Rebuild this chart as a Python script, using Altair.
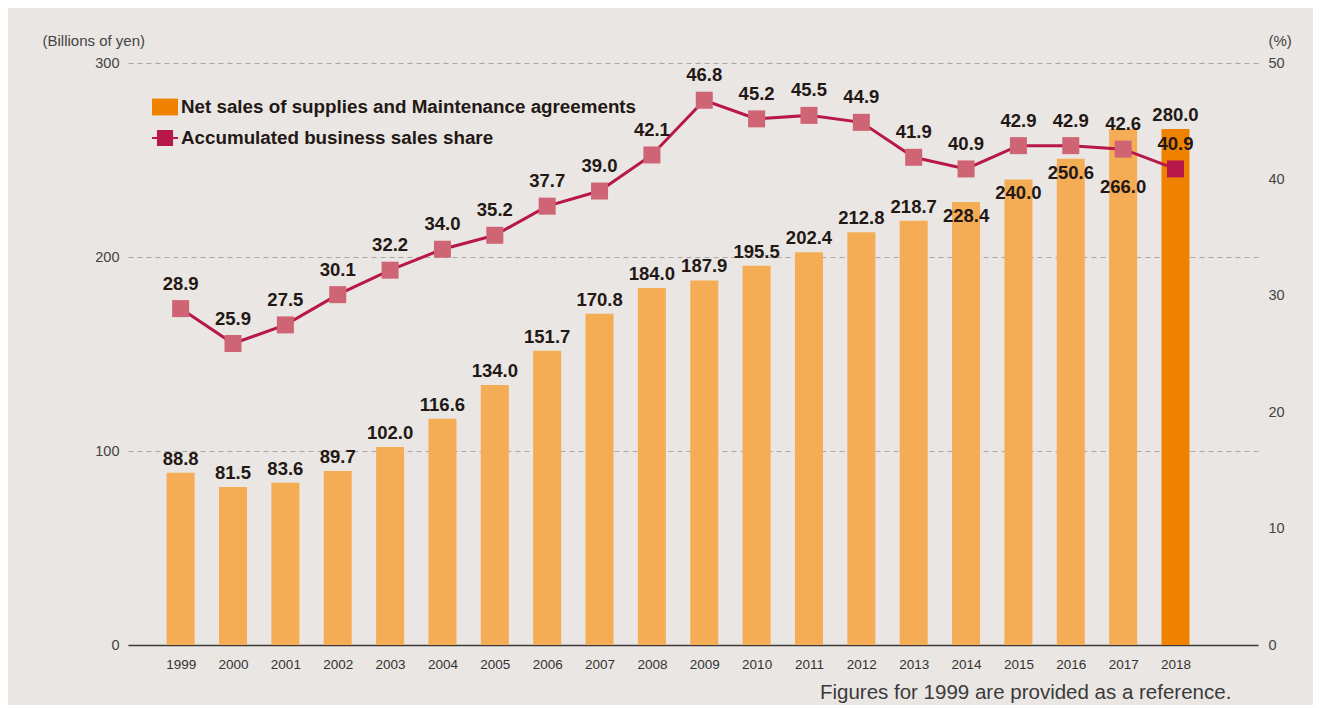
import altair as alt
import pandas as pd

years = list(range(1999, 2019))
sales = [88.8, 81.5, 83.6, 89.7, 102.0, 116.6, 134.0, 151.7, 170.8, 184.0,
         187.9, 195.5, 202.4, 212.8, 218.7, 228.4, 240.0, 250.6, 266.0, 266.0]
sales_labels = ["88.8", "81.5", "83.6", "89.7", "102.0", "116.6", "134.0", "151.7", "170.8", "184.0",
                "187.9", "195.5", "202.4", "212.8", "218.7", "228.4", "240.0", "250.6", "266.0", "280.0"]
share = [28.9, 25.9, 27.5, 30.1, 32.2, 34.0, 35.2, 37.7, 39.0, 42.1,
         46.8, 45.2, 45.5, 44.9, 41.9, 40.9, 42.9, 42.9, 42.6, 40.9]
series = ["Net sales of supplies and Maintenance agreements", "Accumulated business sales share"]

FONT = "Liberation Sans"
LIGHT = "#f4ac55"
DARK = "#ef8300"
CRIMSON = "#b8174a"
PINK = "#cf6474"
TXT = "#231815"

df = pd.DataFrame({"year": years, "sales": sales, "sales_label": sales_labels, "share": share})
df["share_label"] = [f"{v:.1f}" for v in share]
legend_df = pd.DataFrame({"series": series})

x = alt.X("year:Q",
          scale=alt.Scale(domain=[1998.09, 2019.48], nice=False, zero=False),
          axis=alt.Axis(values=years, format="d", title=None, grid=False, ticks=False,
                        labelPadding=12, labelFontSize=13.5, labelColor="#333333",
                        labelFont=FONT, domainColor="#3e3a39", domainWidth=1.5,
                        labelFlush=False))

y_left = alt.Y("sales:Q",
               scale=alt.Scale(domain=[0, 300], nice=False),
               axis=alt.Axis(values=[0, 100, 200, 300], title="(Billions of yen)",
                             titleAngle=0, titleX=-86, titleY=-23, titleAlign="left",
                             titleBaseline="middle", titleFontSize=15, titleFontWeight="normal",
                             titleColor="#444444", titleFont=FONT,
                             grid=True, gridDash=[5, 4], gridColor="#aaa6a3", gridWidth=1,
                             domain=False, ticks=False, labelPadding=9, labelFontSize=14.5,
                             labelColor="#444444", labelFont=FONT))

y_right = alt.Y("share:Q",
                scale=alt.Scale(domain=[0, 50], nice=False),
                axis=alt.Axis(orient="right", values=[0, 10, 20, 30, 40, 50], title="(%)",
                              titleAngle=0, titleX=10, titleY=-23, titleAlign="left",
                              titleBaseline="middle", titleFontSize=15, titleFontWeight="normal",
                              titleColor="#444444", titleFont=FONT,
                              grid=False, domain=False, ticks=False, labelPadding=10,
                              labelFontSize=14.5, labelColor="#444444", labelFont=FONT))

base = alt.Chart(df)

bars = base.mark_bar(size=28).encode(
    x=x, y=y_left,
    color=alt.condition(alt.datum.year == 2018, alt.value(DARK), alt.value(LIGHT)),
)

text_style = dict(font=FONT, fontSize=18.5, fontWeight="bold", color=TXT)

lab_above = base.transform_filter(
    "indexof([2014, 2015, 2016, 2017], datum.year) < 0"
).mark_text(dy=-14, **text_style).encode(x=x, y=y_left, text="sales_label:N")

lab_inside = base.transform_filter(
    alt.FieldOneOfPredicate(field="year", oneOf=[2014, 2015, 2016])
).mark_text(dy=14, **text_style).encode(x=x, y=y_left, text="sales_label:N")

lab_deep = base.transform_filter(
    alt.FieldEqualPredicate(field="year", equal=2017)
).mark_text(dy=58, **text_style).encode(x=x, y=y_left, text="sales_label:N")

left = alt.layer(bars, lab_above, lab_inside, lab_deep)

line = base.mark_line(color=CRIMSON, strokeWidth=3).encode(x=x, y=y_right)
points = base.mark_square(size=289, opacity=1).encode(
    x=x, y=y_right,
    color=alt.condition(alt.datum.year == 2018, alt.value(CRIMSON), alt.value(PINK)),
)
line_labels = base.mark_text(dy=-25, **text_style).encode(x=x, y=y_right, text="share_label:N")

legend_layer = alt.Chart(legend_df).mark_point(filled=True, size=0, opacity=1).encode(
    x=alt.value(0), y=alt.value(0),
    color=alt.Color("series:N",
                    scale=alt.Scale(domain=series, range=[DARK, CRIMSON]),
                    legend=alt.Legend(orient="none", legendX=24, legendY=31, title=None,
                                      symbolOpacity=1, symbolSize=676, symbolStrokeWidth=0,
                                      labelFont=FONT, labelFontSize=18.8, labelFontWeight="bold",
                                      labelColor=TXT, labelOffset=3, rowPadding=8,
                                      labelLimit=0, padding=0)),
    shape=alt.Shape("series:N",
                    scale=alt.Scale(domain=series,
                                    range=["M-1,-0.65H1V0.65H-1Z",
                                           "M-1,-0.07H1V0.07H-1Z M-0.62,-0.62H0.62V0.62H-0.62Z"])),
)

right = alt.layer(line, points, line_labels, legend_layer)

chart = alt.layer(left, right).resolve_scale(y="independent").properties(
    width=1130, height=582,
    padding={"left": 120, "top": 55, "right": 55, "bottom": 60},
    autosize=alt.AutoSizeParams(type="none"),
    background="#eae6e3",
    title=alt.TitleParams("Figures for 1999 are provided as a reference.",
                          orient="bottom", anchor="end", fontSize=20.5, fontWeight="normal",
                          font=FONT, color="#3a3a3a", offset=12, dx=-60),
).configure_view(stroke=None)

chart.save("out.html", embed_options={"renderer": "svg", "actions": False})
